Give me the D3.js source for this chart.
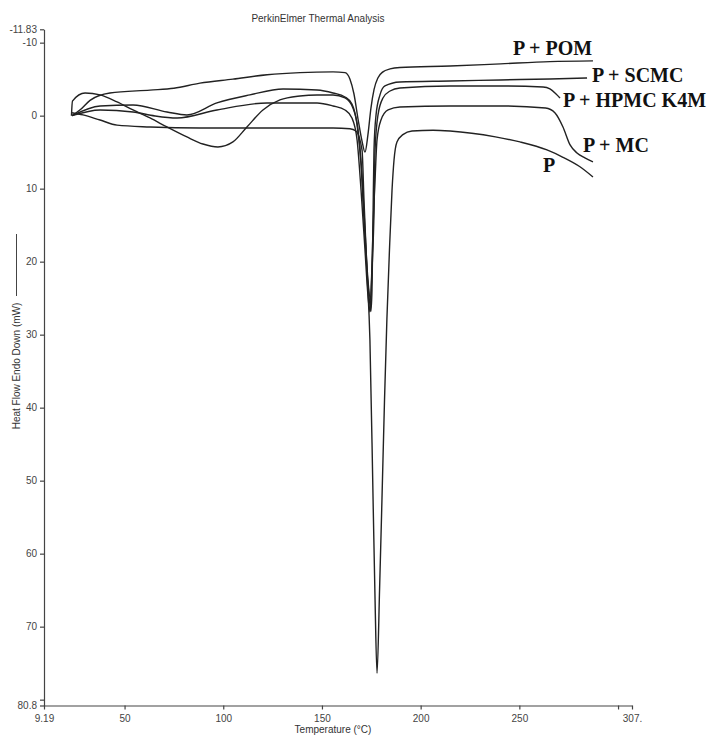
<!DOCTYPE html>
<html>
<head>
<meta charset="utf-8">
<script src="https://cdn.jsdelivr.net/npm/d3@7"></script>
<style>
body{ margin:0; background:#fff; }
svg text{ font-family:"Liberation Sans", Arial, sans-serif; }
.curve{ fill:none; stroke:#222; stroke-width:1.4; }
.axis path, .axis line{ stroke:#444; stroke-width:1.2; }
.axis text{ fill:#444; font-size:10px; }
.series-label{ font-family:"Liberation Serif","Times New Roman",serif !important; font-weight:bold; font-size:20px; fill:#111; }
</style>
</head>
<body>
<svg id="chart" width="710" height="736"></svg>
<script>
// [temperature °C, heat flow mW]
const seriesNames = ['P + POM', 'P + SCMC', 'P + HPMC K4M', 'P + MC', 'P']

const pom = [[23.4,0.0],[27.5,-0.8],[32.5,-2.1],[42.6,-3.1],[62.9,-3.5],[75.0,-3.75],[88.2,-4.45],
	[104.9,-5.0],[122.2,-5.6],[138.9,-5.9],[155.6,-6.0],[161.7,-5.9],[164.2,-5.0],[166.2,-3.0],[168.3,0.5],
	[170.3,3.5],[171.8,5.0],[173.3,2.6],[174.8,-1.0],[176.4,-3.6],[178.4,-5.2],[180.9,-6.0],[184.5,-6.4],
	[189.5,-6.6],[214.9,-6.8],[240.5,-7.1],[265.5,-7.4],[287.3,-7.5]]

const scmc = [[23.4,0.0],[37.6,-1.33],[54.3,-1.47],[71.5,-0.51],[81.6,-0.10],[96.8,-1.74],[113.5,-2.84],
	[130.3,-3.66],[147.5,-3.52],[155.6,-3.11],[161.7,-2.56],[165.2,-1.60],[167.8,1.27],[169.8,6.75],
	[171.3,14.3],[172.8,21.1],[174.3,25.9],[174.8,26.8],[175.35,23.9],[175.85,14.3],[176.36,4.7],
	[177.4,-0.1],[179.4,-2.84],[181.9,-4.07],[189.5,-4.62],[214.9,-4.75],[240.5,-4.89],[265.5,-5.03],[284.3,-5.16]]

const hpmc = [[23.1,0.0],[23.6,-2.0],[30.0,-3.1],[37.6,-2.84],[46.2,-1.88],[54.3,-0.78],[62.9,0.32],
	[71.5,1.55],[81.6,2.92],[89.7,3.88],[97.3,4.29],[104.9,3.60],[112.0,1.55],[120.1,-0.78],[128.7,-2.15],
	[138.9,-2.70],[147.5,-2.84],[155.6,-2.84],[161.7,-2.42],[165.7,-1.05],[168.3,1.96],[170.3,8.12],
	[171.8,15.66],[173.3,22.5],[174.6,25.2],[175.35,21.1],[176.4,12.9],[176.9,4.7],[178.4,-0.1],
	[180.9,-2.42],[184.5,-3.38],[189.5,-3.79],[214.9,-4.07],[240.5,-4.07],[262.0,-3.93],[265.5,-3.66],
	[268.6,-2.97],[270.6,-2.42]]

const mc = [[23.4,0.0],[37.6,-0.78],[54.3,-0.51],[65.4,0.04],[76.6,0.32],[96.8,-0.78],[122.2,-1.74],
	[147.5,-1.74],[155.6,-1.33],[161.7,-0.78],[165.2,0.32],[167.8,3.33],[169.8,10.18],[171.8,18.4],
	[173.3,24.6],[174.3,26.9],[175.1,22.5],[175.85,15.66],[176.9,8.8],[177.9,3.33],[179.9,0.59],
	[183.5,-0.78],[189.5,-1.19],[214.9,-1.33],[240.5,-1.33],[263.3,-1.05],[268.1,-0.37],[272.1,1.55],
	[275.7,4.01],[279.2,5.11],[283.2,5.79],[287.3,6.34]]

const pure = [[23.4,-0.4],[28.9,-0.1],[37.6,0.6],[46.2,1.3],[62.9,1.55],[88.2,1.7],[155.6,1.7],[164.2,1.8],
	[167.2,2.1],[170.3,4.7],[171.3,11.6],[172.8,21.3],[174.3,30.7],[175.9,52.6],[176.9,66.3],[177.9,76.4],
	[179.2,64.8],[180.4,52.6],[181.7,38.9],[182.9,27.9],[184.2,18.4],[185.5,10.2],[186.5,6.1],[188.0,3.6],
	[191.0,2.6],[195.6,2.1],[206.3,2.0],[214.9,2.1],[237.9,2.9],[250.3,3.6],[264.0,4.7],[272.1,5.7],
	[280.7,7.0],[287.3,8.4]]

const xTicks = [9.19,50,100,150,200,250,300,307.07]
const xTickLabels = ['9.19','50','100','150','200','250','','307.']
const yTicks = [-11.83,-10,0,10,20,30,40,50,60,70,80,80.8]
const yTickLabels = ['-11.83','-10','0','10','20','30','40','50','60','70','','80.8']

let allSeries = [pom, scmc, hpmc, mc, pure]

let svg = d3.select('#chart')
let x = d3.scaleLinear().domain([9.19,307.07]).range([44,632])
let y = d3.scaleLinear().domain([-11.83,80.8]).range([29.3,705.5])

// axes
svg.append('g')
	.attr('class','axis')
	.attr('transform','translate(44,0)')
	.call(d3.axisLeft(y).tickValues(yTicks).tickFormat((d,i)=>yTickLabels[i]).tickSize(4).tickSizeOuter(0))

svg.append('g')
	.attr('class','axis')
	.attr('transform','translate(0,705.5)')
	.call(d3.axisBottom(x).tickValues(xTicks).tickFormat((d,i)=>xTickLabels[i]).tickSize(4).tickPadding(5).tickSizeOuter(0))

// curves
let line = d3.line()
	.x(d => x(d[0]))
	.y(d => y(d[1]))
	.curve(d3.curveMonotoneX)

svg.append('g').selectAll('path')
	.data(allSeries)
	.join('path')
	.attr('class','curve')
	.attr('d', d => line(d))

// series labels (left x, baseline y)
let labelPos = [[513,55],[592,82],[563,107],[583,152],[543,172]]
svg.append('g').selectAll('text')
	.data(seriesNames)
	.join('text')
	.attr('class','series-label')
	.attr('x',(d,i)=>labelPos[i][0])
	.attr('y',(d,i)=>labelPos[i][1])
	.text(d=>d)

// titles
svg.append('text')
	.attr('x',318).attr('y',22)
	.attr('text-anchor','middle')
	.style('font-size','10px').style('fill','#333')
	.text('PerkinElmer Thermal Analysis')

svg.append('text')
	.attr('x',333).attr('y',733)
	.attr('text-anchor','middle')
	.style('font-size','10px').style('fill','#333')
	.text('Temperature (°C)')

svg.append('text')
	.attr('transform','translate(20,366) rotate(-90)')
	.attr('text-anchor','middle')
	.style('font-size','10px').style('fill','#333')
	.text('Heat Flow Endo Down (mW)')

svg.append('line')
	.attr('x1',16.5).attr('x2',16.5)
	.attr('y1',296).attr('y2',234)
	.style('stroke','#444').style('stroke-width',1)
</script>
</body>
</html>
